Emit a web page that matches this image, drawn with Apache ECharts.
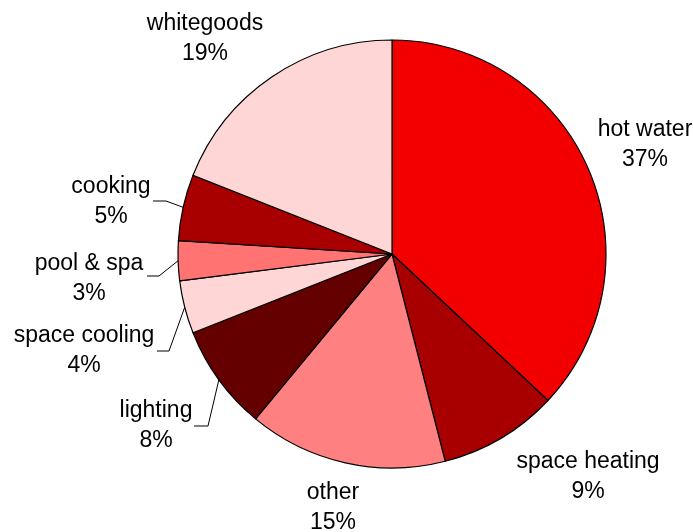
<!DOCTYPE html>
<html>
<head>
<meta charset="utf-8">
<script src="https://cdn.jsdelivr.net/npm/echarts@6/dist/echarts.min.js"></script>
<style>
  html, body { margin: 0; padding: 0; background: #fff; }
  #chart { width: 693px; height: 532px; }
</style>
</head>
<body>
<div id="chart"></div>
<script>
// Household energy use by end use (share of total, %)
const categories = ['hot water', 'space heating', 'other', 'lighting', 'space cooling', 'pool & spa', 'cooking', 'whitegoods'];
const shares = [37, 9, 15, 8, 4, 3, 5, 19];

// Slice fills, in the same order as the categories
const sliceColors = ['#F20000', '#A80000', '#FF8080', '#640000', '#FFD6D6', '#FF7373', '#A80000', '#FFD6D6'];

// Label block centres and leader-line bends (pixel layout only)
const labelCentres = [
  [645, 145], [588, 477], [333, 508], [156, 426],
  [84, 351], [89, 279], [111, 202], [205, 39]
];
const leaderBends = {
  3: [[208, 426], [194, 426]],
  4: [[169, 351], [157, 351]],
  5: [[159, 276], [147, 276]],
  6: [[166, 201], [153, 201]]
};

const chart = echarts.init(document.getElementById('chart'), null, { renderer: 'canvas' });

const data = categories.map((name, i) => ({
  name,
  value: shares[i],
  itemStyle: { color: sliceColors[i] },
  labelLine: { show: leaderBends[i] !== undefined }
}));

chart.setOption({
  animation: false,
  series: [{
    type: 'pie',
    center: [392, 254],
    radius: 214,
    startAngle: 90,
    clockwise: true,
    avoidLabelOverlap: false,
    percentPrecision: 0,
    data,
    itemStyle: { borderColor: '#000', borderWidth: 1.2 },
    label: {
      show: true,
      position: 'outside',
      formatter: p => p.name + '\n' + p.value + '%',
      fontFamily: 'Liberation Sans, Arial, sans-serif',
      fontSize: 23,
      lineHeight: 30,
      color: '#000',
      align: 'center'
    },
    labelLine: {
      lineStyle: { color: '#000', width: 1 },
      length: 10,
      length2: 10
    },
    labelLayout: params => {
      const i = params.dataIndex;
      const c = labelCentres[i];
      const out = { x: c[0], y: c[1], align: 'center', verticalAlign: 'middle' };
      const bends = leaderBends[i];
      if (bends && params.labelLinePoints) {
        out.labelLinePoints = [params.labelLinePoints[0], bends[0], bends[1]];
      }
      return out;
    }
  }]
});
</script>
</body>
</html>
